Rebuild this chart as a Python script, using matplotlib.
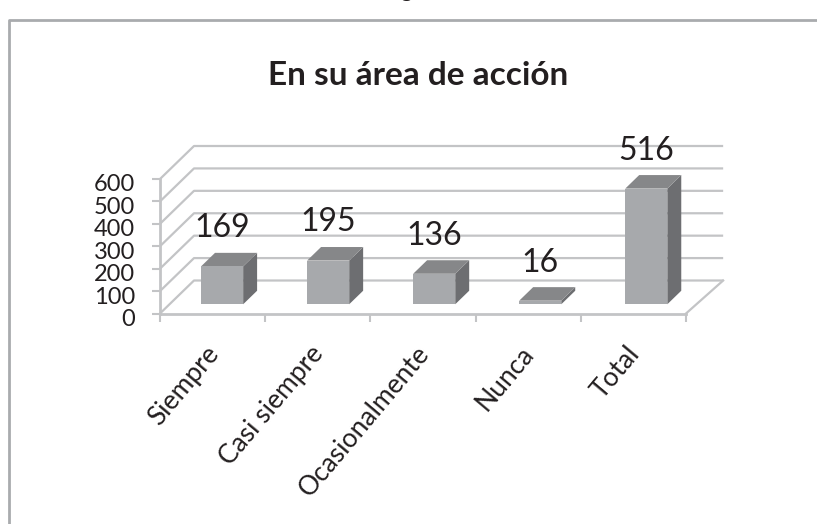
import matplotlib.pyplot as plt
from matplotlib.patches import Polygon
from matplotlib.lines import Line2D
from matplotlib.transforms import ScaledTranslation

categories = ['Siempre', 'Casi siempre', 'Ocasionalmente', 'Nunca', 'Total']
values = [169, 195, 136, 16, 516]
y_ticks = [0, 100, 200, 300, 400, 500, 600]

W, H = 817, 524
grid_col = '#c3c4c6'
text_col = '#231f20'
font = 'Lato'

fig = plt.figure(figsize=(W / 100, H / 100), dpi=100)
ax = fig.add_axes([160 / W, 1 - 313.5 / H, 526 / W, 134.5 / H])
ax.set_xlim(0, 5)
ax.set_ylim(0, 600)

# oblique depth of the fake 3d box, in data units
dx = 34 / 105.2
dy = 33 / 0.2242

# back wall, left wall, floor
for v in y_ticks:
    ax.plot([0, dx, 5 + dx + 0.03], [v, v + dy, v + dy], color=grid_col, lw=1.6,
            clip_on=False, zorder=1, solid_capstyle='butt')
ax.plot([5, 5 + dx + 0.03], [0, dy], color=grid_col, lw=1.6, clip_on=False, zorder=1)

# bars
bw = 0.4
d0 = 0.28
d1 = 0.69
step = 1.008
for i, v in enumerate(values):
    l = i * step + 0.5 - bw / 2
    r = l + bw
    x0, y0 = d0 * dx, d0 * dy
    x1, y1 = d1 * dx, d1 * dy
    ax.add_patch(Polygon([(r + x0, y0), (r + x1, y1), (r + x1, v + y1), (r + x0, v + y0)],
                         color='#6d6e71', clip_on=False, zorder=3, lw=0))
    ax.add_patch(Polygon([(l + x0, v + y0), (l + x1, v + y1), (r + x1, v + y1), (r + x0, v + y0)],
                         color='#868789', clip_on=False, zorder=3, lw=0))
    ax.add_patch(Polygon([(l + x0, y0), (r + x0, y0), (r + x0, v + y0), (l + x0, v + y0)],
                         color='#a7a9ac', clip_on=False, zorder=3, lw=0))
    ax.annotate(str(v), (l + bw / 2 + x0, v + y0), xytext=(0, 27.4), textcoords='offset points',
                ha='center', va='center', fontsize=23, color=text_col, family=font, zorder=5)

for s in ['top', 'right']:
    ax.spines[s].set_visible(False)
for s in ['left', 'bottom']:
    ax.spines[s].set_color(grid_col)
    ax.spines[s].set_linewidth(2)

ax.set_yticks(y_ticks)
ax.set_xticks(range(6))
ax.set_xticklabels([])
ax.set_xticks([i + 0.5 for i in range(5)], minor=True)
ax.set_xticklabels(categories, minor=True, rotation=50, ha='right', rotation_mode='anchor',
                   fontsize=19, color=text_col, family=font)
ax.tick_params(axis='x', which='major', length=6, width=1.5, color=grid_col)
ax.tick_params(axis='x', which='minor', length=0, pad=20)
ax.tick_params(axis='y', length=6, width=1.5, color=grid_col, pad=12, labelsize=17, labelcolor=text_col)

shift_y = ScaledTranslation(0, -4 / 100, fig.dpi_scale_trans)
for t in ax.get_yticklabels():
    t.set_family(font)
    t.set_transform(t.get_transform() + shift_y)
shift_x = ScaledTranslation(-8 / 100, 0, fig.dpi_scale_trans)
for t in ax.get_xticklabels(minor=True):
    t.set_transform(t.get_transform() + shift_x)

fig.text(418.5 / W, 1 - 85 / H, 'En su área de acción', ha='center', va='baseline',
         fontsize=24, fontweight='bold', color=text_col, family=font)

# outer frame of the chart, and the caption cut off at the top
fig.add_artist(Line2D([9 / W, 9 / W, 1], [0, 1 - 20 / H, 1 - 20 / H], color='#a9abae', lw=2))
fig.text(406 / W, 1 + 3 / H, 'g', ha='center', va='baseline', fontsize=16, color=text_col, family=font)

fig.savefig('out.png', dpi=100)
